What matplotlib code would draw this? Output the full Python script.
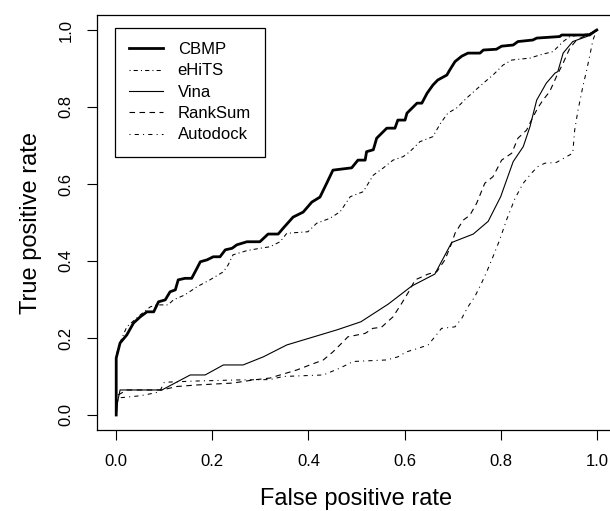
# ROC curves, R base graphics look
import matplotlib
matplotlib.use("Agg")
import matplotlib.pyplot as plt

plt.rcParams['font.family'] = ['Liberation Sans', 'DejaVu Sans']

cbmp_x = [0, 0, 0.008, 0.022, 0.036, 0.050, 0.064, 0.078, 0.088, 0.102, 0.112, 0.123, 0.129, 0.143,
          0.157, 0.168, 0.175, 0.189, 0.202, 0.216, 0.227, 0.241, 0.251, 0.272, 0.299, 0.316, 0.337,
          0.348, 0.368, 0.389, 0.407, 0.424, 0.438, 0.451, 0.490, 0.503, 0.518, 0.521, 0.535, 0.542,
          0.563, 0.580, 0.586, 0.601, 0.605, 0.626, 0.636, 0.647, 0.659, 0.669, 0.688, 0.694, 0.705,
          0.719, 0.732, 0.757, 0.764, 0.791, 0.802, 0.826, 0.836, 0.867, 0.875, 0.923, 0.927, 0.985,
          0.996, 1.0]
cbmp_y = [0, 0.148, 0.187, 0.208, 0.239, 0.255, 0.268, 0.268, 0.294, 0.299, 0.320, 0.325, 0.351, 0.355,
          0.355, 0.381, 0.398, 0.403, 0.411, 0.411, 0.429, 0.433, 0.442, 0.450, 0.450, 0.470, 0.470,
          0.486, 0.514, 0.527, 0.553, 0.566, 0.602, 0.636, 0.642, 0.662, 0.662, 0.684, 0.689, 0.719,
          0.745, 0.745, 0.766, 0.766, 0.784, 0.810, 0.810, 0.836, 0.857, 0.870, 0.883, 0.896, 0.918,
          0.932, 0.940, 0.940, 0.948, 0.950, 0.958, 0.961, 0.970, 0.974, 0.979, 0.983, 0.987, 0.987,
          0.997, 1.0]

ehits_x = [0, 0, 0.004, 0.022, 0.050, 0.071, 0.085, 0.108, 0.119, 0.143, 0.168, 0.195, 0.223, 0.233,
           0.243, 0.272, 0.299, 0.320, 0.341, 0.355, 0.399, 0.417, 0.445, 0.466, 0.487, 0.514, 0.535,
           0.555, 0.576, 0.597, 0.611, 0.632, 0.659, 0.674, 0.690, 0.708, 0.729, 0.764, 0.784, 0.805,
           0.823, 0.861, 0.881, 0.909, 0.930, 0.944, 0.992, 1.0]
ehits_y = [0, 0.150, 0.177, 0.229, 0.260, 0.281, 0.286, 0.286, 0.299, 0.312, 0.333, 0.351, 0.372, 0.390,
           0.416, 0.427, 0.433, 0.437, 0.450, 0.472, 0.476, 0.498, 0.511, 0.528, 0.567, 0.580, 0.623,
           0.641, 0.662, 0.671, 0.684, 0.710, 0.723, 0.756, 0.784, 0.797, 0.823, 0.862, 0.883, 0.909,
           0.922, 0.927, 0.935, 0.944, 0.970, 0.983, 0.992, 1.0]

vina_x = [0, 0.003, 0.008, 0.095, 0.154, 0.185, 0.223, 0.264, 0.306, 0.355, 0.459, 0.509, 0.566, 0.615,
          0.663, 0.698, 0.743, 0.774, 0.800, 0.826, 0.847, 0.861, 0.875, 0.895, 0.913, 0.919, 0.930,
          0.950, 0.979, 0.996, 1.0]
vina_y = [0, 0.035, 0.065, 0.065, 0.104, 0.104, 0.130, 0.130, 0.151, 0.182, 0.221, 0.242, 0.288, 0.335,
          0.366, 0.448, 0.470, 0.503, 0.567, 0.658, 0.697, 0.749, 0.818, 0.862, 0.888, 0.892, 0.940,
          0.970, 0.983, 0.995, 1.0]

rank_x = [0, 0.004, 0.022, 0.095, 0.126, 0.168, 0.243, 0.285, 0.320, 0.341, 0.376, 0.403, 0.431, 0.451,
          0.472, 0.482, 0.518, 0.534, 0.552, 0.576, 0.594, 0.611, 0.622, 0.649, 0.667, 0.684, 0.698,
          0.705, 0.722, 0.736, 0.750, 0.767, 0.784, 0.802, 0.823, 0.836, 0.854, 0.864, 0.877, 0.888,
          0.902, 0.916, 0.930, 0.944, 0.958, 0.979, 1.0]
rank_y = [0, 0.052, 0.065, 0.065, 0.074, 0.078, 0.083, 0.091, 0.096, 0.104, 0.117, 0.130, 0.143, 0.164,
          0.190, 0.203, 0.212, 0.225, 0.228, 0.255, 0.290, 0.325, 0.351, 0.366, 0.372, 0.403, 0.446,
          0.472, 0.506, 0.519, 0.550, 0.602, 0.619, 0.662, 0.680, 0.719, 0.740, 0.766, 0.797, 0.818,
          0.840, 0.879, 0.914, 0.953, 0.974, 0.987, 1.0]

auto_x = [0, 0.002, 0.010, 0.050, 0.071, 0.090, 0.100, 0.160, 0.250, 0.320, 0.347, 0.431, 0.466, 0.493,
          0.563, 0.586, 0.604, 0.628, 0.649, 0.663, 0.677, 0.705, 0.719, 0.732, 0.746, 0.760, 0.771,
          0.784, 0.798, 0.812, 0.830, 0.847, 0.864, 0.877, 0.892, 0.916, 0.937, 0.950, 0.954, 0.961,
          0.971, 0.979, 0.985, 0.992, 1.0]
auto_y = [0, 0.035, 0.045, 0.050, 0.055, 0.060, 0.085, 0.088, 0.091, 0.092, 0.100, 0.104, 0.122, 0.139,
          0.143, 0.151, 0.164, 0.173, 0.182, 0.203, 0.225, 0.229, 0.251, 0.281, 0.307, 0.342, 0.372,
          0.411, 0.455, 0.506, 0.563, 0.602, 0.628, 0.645, 0.654, 0.656, 0.671, 0.680, 0.740, 0.792,
          0.853, 0.896, 0.931, 0.974, 1.0]

fig = plt.figure(figsize=(6.1, 5.11), dpi=100)
W, H = 610.0, 511.0
ax = fig.add_axes([97 / W, (H - 430.4) / H, 519 / W, 415.8 / H])

ax.plot(cbmp_x, cbmp_y, color='black', lw=2.0, label='CBMP')
ax.plot(ehits_x, ehits_y, color='black', lw=0.75, linestyle=(0, (1, 3, 4, 3)), label='eHiTS')
ax.plot(vina_x, vina_y, color='black', lw=0.8, label='Vina')
ax.plot(rank_x, rank_y, color='black', lw=0.8, linestyle=(0, (5, 4)), label='RankSum')
ax.plot(auto_x, auto_y, color='black', lw=0.75, linestyle=(0, (1, 4, 4, 4)), label='Autodock')

ax.set_xlim(-0.04, 1.04)
ax.set_ylim(-0.04, 1.04)
ticks = [0.0, 0.2, 0.4, 0.6, 0.8, 1.0]
ax.set_xticks(ticks)
ax.set_yticks(ticks)
ax.set_xticklabels(['%.1f' % t for t in ticks], fontsize=12)
ax.set_yticklabels(['%.1f' % t for t in ticks], fontsize=12, rotation=90, va='center')
ax.tick_params(direction='out', length=7, width=0.8, pad=10)

# R style detached axes: box plus ticks
for s in ax.spines.values():
    s.set_linewidth(0.9)

ax.set_xlabel('False positive rate', fontsize=17, labelpad=14)
ax.set_ylabel('True positive rate', fontsize=17, labelpad=12)

leg = ax.legend(loc='upper left', bbox_to_anchor=(0.035, 0.968), borderaxespad=0,
                fancybox=False, edgecolor='black', fontsize=12, handlelength=2.0,
                handletextpad=0.9, labelspacing=0.38, borderpad=0.85, framealpha=1)
leg.get_frame().set_linewidth(0.9)

fig.savefig('out.png', dpi=100)
